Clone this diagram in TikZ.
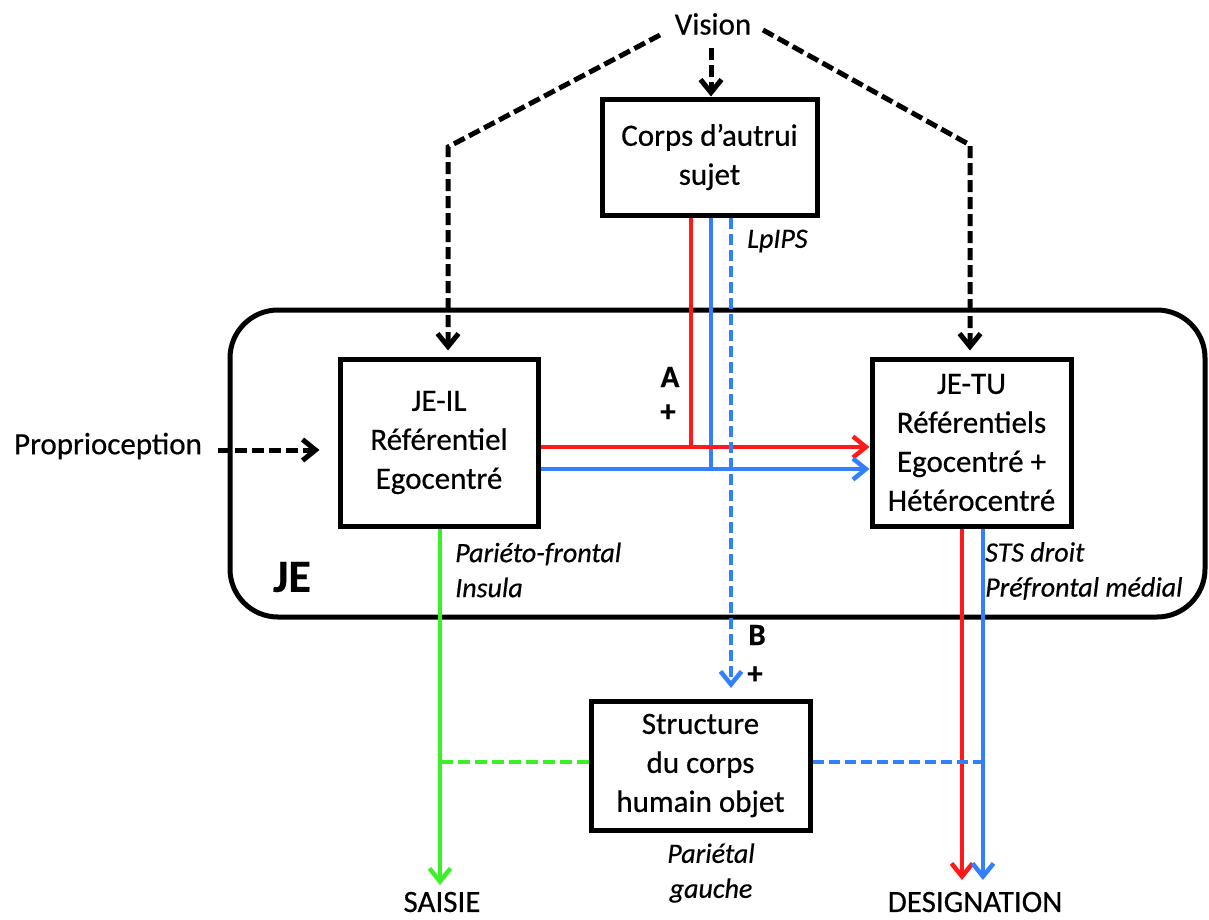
\documentclass[tikz,border=0pt]{standalone}
\usepackage{fontspec}
\setmainfont{Carlito}[FakeBold=0.5]
\usetikzlibrary{arrows.meta}
\definecolor{cred}{RGB}{255,25,25}
\definecolor{cblue}{RGB}{51,128,255}
\definecolor{cgreen}{RGB}{60,240,40}
\begin{document}
\begin{tikzpicture}[x=1pt,y=-1pt,
 box/.style={draw,line width=5pt,inner sep=0pt,align=center,font=\fontsize{31}{39}\selectfont},
 txt/.style={inner sep=0pt,font=\fontsize{31}{39}\selectfont},
 lab/.style={inner sep=0pt,align=left,font=\fontsize{28}{35}\selectfont\itshape},
 bl/.style={inner sep=0pt,font=\fontsize{31}{36}\selectfont\bfseries},
 tip/.style={-{Straight Barb[length=13pt,width=21pt]}},
 blk/.style={line width=5pt,dash pattern=on 12pt off 5pt},
 col/.style={line width=4.5pt},
 dsh/.style={line width=4.5pt,dash pattern=on 11pt off 5pt}
]
\useasboundingbox (0,0) rectangle (1209,919);
% containers and boxes
\node[draw,line width=5pt,rounded corners=48pt,minimum width=975pt,minimum height=307pt,inner sep=0pt] (JE) at (717.5,463.5) {};
\node[font=\fontsize{46}{50}\selectfont\bfseries,inner sep=0pt] (JElab) at (292,577) {JE};
\node[box,minimum width=215pt,minimum height=116pt] (corps) at (709.5,157) {Corps d’autrui\\sujet};
\node[box,minimum width=198pt,minimum height=167pt] (jeil) at (439,442.5) {JE-IL\\Référentiel\\Egocentré};
\node[box,minimum width=199pt,minimum height=167pt] (jetu) at (971.5,442.5) {JE-TU\\Référentiels\\Egocentré +\\Hétérocentré};
\node[box,minimum width=219pt,minimum height=129pt] (struct) at (700.5,765.5) {Structure\\du corps\\humain objet};
% free texts
\node[txt] (vision) at (713,24) {Vision};
\node[txt] (prop) at (108,446) {Proprioception};
\node[txt] (saisie) at (442,902) {SAISIE};
\node[txt] (desig) at (975,902) {DESIGNATION};
\node[bl] (A) at (670,377) {A};
\node[bl] (Ap) at (668,413) {+};
\node[bl] (B) at (757,635) {B};
\node[bl] (Bp) at (755,675) {+};
\node[lab,anchor=west] (lpips) at (747,241) {LpIPS};
\node[lab,anchor=west] (pf) at (455,570) {Pariéto-frontal\\Insula};
\node[lab,anchor=west] (sts) at (985,571) {STS droit\\Préfrontal médial};
\node[lab,align=center] (par) at (711,873) {Pariétal\\gauche};
% coordinates
\coordinate (vl) at (660,35);
\coordinate (cl) at (448,147);
\coordinate (vr) at (763,30);
\coordinate (cr) at (970,145);
\coordinate (va) at (711,48);
\coordinate (pa) at (218,450);
\coordinate (rx) at (691,447);
\coordinate (bx) at (711,469);
\coordinate (dbx) at (731,688);
\coordinate (gx) at (440,885);
\coordinate (gy) at (0,762);
\coordinate (rdx) at (962,880);
\coordinate (bdx) at (983,880);
% black dashed arrows
\draw[blk,tip,shorten >=6pt] (vl) -- (cl) -- (cl |- jeil.north);
\draw[blk,tip,shorten >=6pt] (vr) -- (cr) -- (cr |- jetu.north);
\draw[blk,tip] (va) -- (va |- corps.north);
\draw[blk,tip,shorten >=18pt] (pa) -- (pa -| jeil.west);
% coloured connectors
\draw[col,cblue] (bx |- corps.south) -- (bx);
\draw[col,cred] (rx |- corps.south) -- (rx);
\draw[col,cred,tip] (rx -| jeil.east) -- (rx -| jetu.west);
\draw[col,cblue,tip] (bx -| jeil.east) -- (bx -| jetu.west);
\draw[dsh,cblue,tip] (dbx |- corps.south) -- (dbx);
\draw[col,cgreen,tip] (gx |- jeil.south) -- (gx);
\draw[dsh,cgreen,dash pattern=on 12pt off 5pt] (struct.west |- gy) -- (gx |- gy);
\draw[col,cred,tip] (rdx |- jetu.south) -- (rdx);
\draw[col,cblue,tip] (bdx |- jetu.south) -- (bdx);
\draw[dsh,cblue] (struct.east |- gy) -- (bdx |- gy);
\end{tikzpicture}
\end{document}
